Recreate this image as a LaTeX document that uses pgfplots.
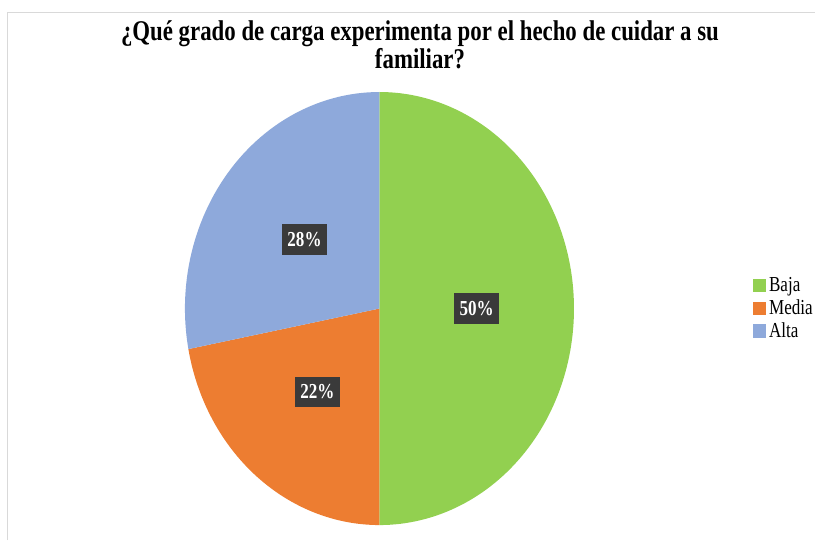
\documentclass[border=0pt]{standalone}
\usepackage{pgfplots}
\pgfplotsset{compat=1.18}
\usepackage{pgfplotstable}
\usepackage{fontspec}
\setmainfont[FakeStretch=0.8]{Liberation Serif}
\definecolor{cBaja}{HTML}{92D050}
\definecolor{cMedia}{HTML}{ED7D31}
\definecolor{cAlta}{HTML}{8EA9DB}
\definecolor{lblbg}{HTML}{3A3A3A}
\pgfplotstableread{
cat value
Baja 50
Media 22
Alta 28
}\piedata
\begin{document}
\begin{tikzpicture}
\useasboundingbox (0,0) rectangle (611.25pt,405pt);
\draw[black!15, line width=0.9pt] (5.6pt,0) -- (5.6pt,395.6pt) -- (611.25pt,395.6pt);
\node[font=\bfseries\fontsize{21.4}{20.5}\selectfont, align=center] at (315pt,371.5pt) {¿Qué grado de carga experimenta por el hecho de cuidar a su\\familiar?};
\pgfplotstablegetelem{0}{value}\of\piedata \let\vA\pgfplotsretval
\pgfplotstablegetelem{1}{value}\of\piedata \let\vB\pgfplotsretval
\pgfplotstablegetelem{2}{value}\of\piedata \let\vC\pgfplotsretval
\pgfmathsetmacro\aA{90}
\pgfmathsetmacro\aB{90-3.6*\vA}
\pgfmathsetmacro\aC{\aB-3.6*\vB}
\pgfmathsetmacro\aD{\aC-3.6*\vC}
\begin{axis}[at={(284.6pt,173.6pt)}, anchor=center, width=291.8pt, height=324.8pt,
  scale only axis, hide axis, xmin=-1, xmax=1, ymin=-1, ymax=1, clip=false,
  legend style={at={(1.45,0.5)}, anchor=west, draw=none, fill=none,
    font=\fontsize{16}{16}\selectfont, row sep=0.5pt, cells={anchor=west}},
  legend image code/.code={\fill[#1] (0pt,-4.9pt) rectangle (9.8pt,4.9pt);}]
\addplot[fill=cBaja, draw=none, domain=\aA:\aB, samples=120, variable=\t] ({cos(\t)},{sin(\t)}) -- (axis cs:0,0) -- cycle;
\addlegendentry{Baja}
\addplot[fill=cMedia, draw=none, domain=\aB:\aC, samples=60, variable=\t] ({cos(\t)},{sin(\t)}) -- (axis cs:0,0) -- cycle;
\addlegendentry{Media}
\addplot[fill=cAlta, draw=none, domain=\aC:\aD, samples=60, variable=\t] ({cos(\t)},{sin(\t)}) -- (axis cs:0,0) -- cycle;
\addlegendentry{Alta}
\tikzset{lbl/.style={fill=lblbg, text=white, font=\bfseries\fontsize{16}{18}\selectfont, inner xsep=4pt, minimum height=23pt}}
\node[lbl] at (axis cs:{0.5*cos((\aA+\aB)/2)},{0.5*sin((\aA+\aB)/2)}) {50\%};
\node[lbl] at (axis cs:{0.5*cos((\aB+\aC)/2)},{0.5*sin((\aB+\aC)/2)}) {22\%};
\node[lbl] at (axis cs:{0.5*cos((\aC+\aD)/2)},{0.5*sin((\aC+\aD)/2)}) {28\%};
\end{axis}
\end{tikzpicture}
\end{document}
